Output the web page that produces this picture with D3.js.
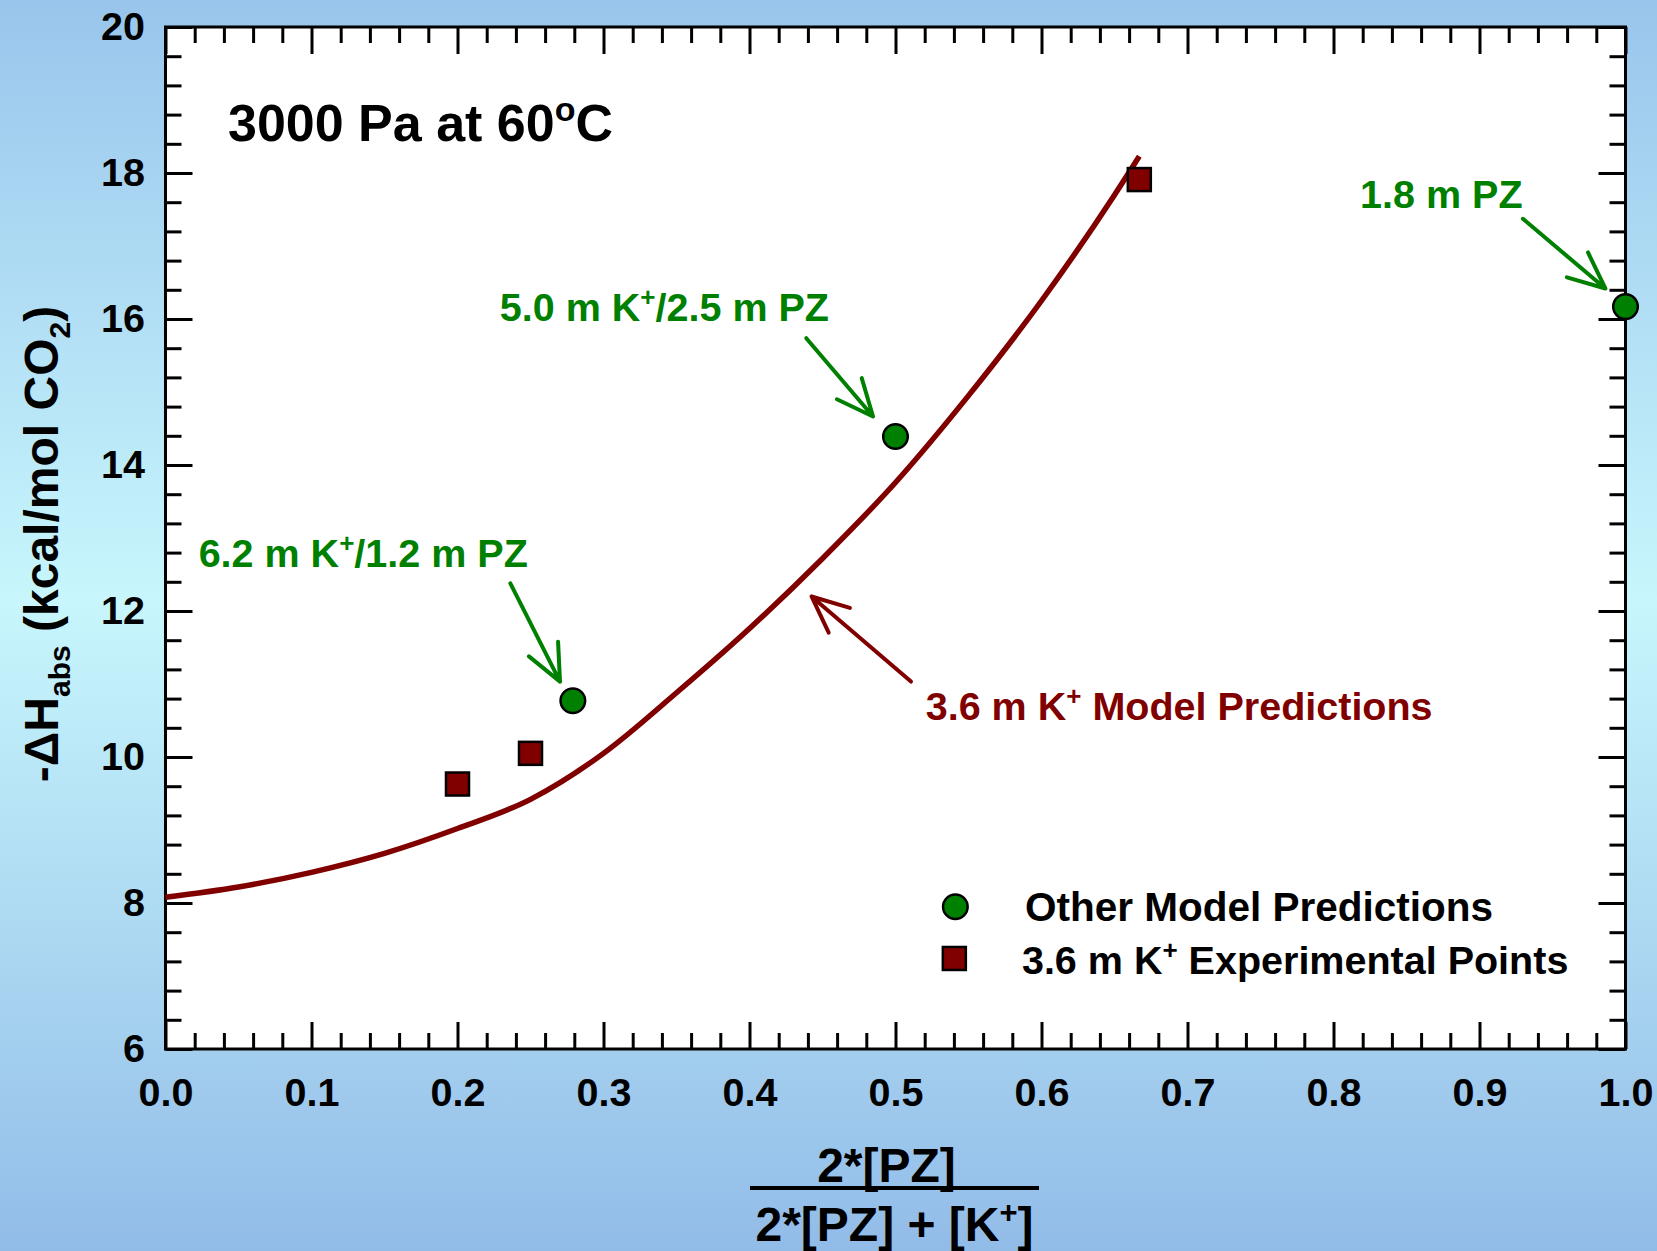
<!DOCTYPE html>
<html><head><meta charset="utf-8">
<script src="https://cdn.jsdelivr.net/npm/d3@7"></script>
<style>html,body{margin:0;padding:0;overflow:hidden;}svg{display:block;}text{font-family:"Liberation Sans",Arial,sans-serif;font-weight:bold;}</style>
</head><body>
<script>
// ---- data ----
const modelX = [0, 0.05, 0.1, 0.15, 0.2, 0.25, 0.3, 0.35, 0.4, 0.45, 0.5, 0.55, 0.6, 0.65, 0.667];
const modelY = [8.08, 8.22, 8.42, 8.68, 9.02, 9.42, 10.05, 10.88, 11.76, 12.72, 13.76, 14.95, 16.25, 17.7, 18.23];
const otherX = [0.279, 0.5, 1.0];
const otherY = [10.77, 14.39, 16.17];
const expX = [0.2, 0.25, 0.667];
const expY = [9.63, 10.05, 17.91];
const xTicks = [0, 0.1, 0.2, 0.3, 0.4, 0.5, 0.6, 0.7, 0.8, 0.9, 1.0];
const yTicks = [6, 8, 10, 12, 14, 16, 18, 20];
const xTickLabels = ["0.0","0.1","0.2","0.3","0.4","0.5","0.6","0.7","0.8","0.9","1.0"];
const yTickLabels = ["6","8","10","12","14","16","18","20"];
const legendLabels = ["Other Model Predictions", "3.6 m K", "Experimental Points"];

const W = 1657, H = 1251;
const L = 165.5, R = 1625.5, T = 27, B = 1049;
const GREEN = "#008000", RED = "#800000";

const svg = d3.select("body").append("svg").attr("width", W).attr("height", H);
const defs = svg.append("defs");
const grad = defs.append("linearGradient").attr("id","bg").attr("x1",0).attr("y1",0).attr("x2",0).attr("y2",1);
grad.append("stop").attr("offset","0%").attr("stop-color","#99c5ec");
grad.append("stop").attr("offset","48%").attr("stop-color","#c8f6fc");
grad.append("stop").attr("offset","100%").attr("stop-color","#92bce8");
svg.append("rect").attr("width",W).attr("height",H).attr("fill","url(#bg)");

const x = d3.scaleLinear().domain([0,1]).range([L,R]);
const y = d3.scaleLinear().domain([6,20]).range([B,T]);

svg.append("rect").attr("x",L).attr("y",T).attr("width",R-L).attr("height",B-T).attr("fill","#fff");

// minor ticks
const xMinor = d3.range(0, 1.0001, 0.02).filter(v => Math.abs(v*10 - Math.round(v*10)) > 1e-6);
const yMinor = d3.range(6, 20.0001, 0.4).filter(v => Math.abs(v/2 - Math.round(v/2)) > 1e-6);

function styleAxis(g){
  g.select(".domain").remove();
  g.selectAll(".tick line").attr("stroke","#000").attr("stroke-width",3);
  g.selectAll("text").attr("fill","#000").attr("font-size",39.5).attr("font-family","Liberation Sans, Arial, sans-serif").attr("font-weight","bold");
}
const MAJ = 27, MIN = 16;
svg.append("g").attr("transform",`translate(0,${B})`)
  .call(d3.axisBottom(x).tickValues(xTicks).tickSize(-MAJ).tickPadding(28.5).tickFormat((d,i)=>xTickLabels[i])).call(styleAxis);
svg.append("g").attr("transform",`translate(0,${B})`)
  .call(d3.axisBottom(x).tickValues(xMinor).tickSize(-MIN).tickFormat("")).call(styleAxis);
svg.append("g").attr("transform",`translate(0,${T})`)
  .call(d3.axisTop(x).tickValues(xTicks).tickSize(-MAJ).tickFormat("")).call(styleAxis);
svg.append("g").attr("transform",`translate(0,${T})`)
  .call(d3.axisTop(x).tickValues(xMinor).tickSize(-MIN).tickFormat("")).call(styleAxis);
svg.append("g").attr("transform",`translate(${L},0)`)
  .call(d3.axisLeft(y).tickValues(yTicks).tickSize(-MAJ).tickPadding(20.5).tickFormat((d,i)=>yTickLabels[i])).call(styleAxis);
svg.append("g").attr("transform",`translate(${L},0)`)
  .call(d3.axisLeft(y).tickValues(yMinor).tickSize(-MIN).tickFormat("")).call(styleAxis);
svg.append("g").attr("transform",`translate(${R},0)`)
  .call(d3.axisRight(y).tickValues(yTicks).tickSize(-MAJ).tickFormat("")).call(styleAxis);
svg.append("g").attr("transform",`translate(${R},0)`)
  .call(d3.axisRight(y).tickValues(yMinor).tickSize(-MIN).tickFormat("")).call(styleAxis);

svg.append("rect").attr("x",L).attr("y",T).attr("width",R-L).attr("height",B-T)
  .attr("fill","none").attr("stroke","#000").attr("stroke-width",3);

// model curve
const model = modelX.map((v,i)=>({x:v,y:modelY[i]}));
svg.append("path").datum(model)
  .attr("d", d3.line().x(d=>x(d.x)).y(d=>y(d.y)).curve(d3.curveMonotoneX))
  .attr("fill","none").attr("stroke",RED).attr("stroke-width",5.5);

// experimental squares
const SQ = 23;
svg.selectAll(".sq").data(expX.map((v,i)=>({x:v,y:expY[i]}))).enter().append("rect")
  .attr("x",d=>x(d.x)-SQ/2).attr("y",d=>y(d.y)-SQ/2).attr("width",SQ).attr("height",SQ)
  .attr("fill",RED).attr("stroke","#000").attr("stroke-width",2.5);

// other model circles
svg.selectAll(".ci").data(otherX.map((v,i)=>({x:v,y:otherY[i]}))).enter().append("circle")
  .attr("cx",d=>x(d.x)).attr("cy",d=>y(d.y)).attr("r",12.3)
  .attr("fill",GREEN).attr("stroke","#000").attr("stroke-width",2.5);

// title
const title = svg.append("text").attr("x",x(0.0428)).attr("y",y(18.438)).attr("font-size",52).attr("fill","#000");
title.append("tspan").text("3000 Pa at 60");
title.append("tspan").attr("font-size",34).attr("dy",-20).text("o");
title.append("tspan").attr("dy",20).text("C");

// annotations
function supLabel(px, py, parts, color){
  const t = svg.append("text").attr("x",x(px)).attr("y",y(py)).attr("font-size",39.5).attr("fill",color);
  parts.forEach(p=>{
    if(p.sup){ t.append("tspan").attr("font-size",26).attr("dy",-15).text(p.t); }
    else { const s = t.append("tspan").text(p.t); if(p.after) s.attr("dy",15); }
  });
  return t;
}
supLabel(0.0227, 12.596, [{t:"6.2 m K"},{t:"+",sup:true},{t:"/1.2 m PZ",after:true}], GREEN);
supLabel(0.229, 15.968, [{t:"5.0 m K"},{t:"+",sup:true},{t:"/2.5 m PZ",after:true}], GREEN);
supLabel(0.8182, 17.518, [{t:"1.8 m PZ"}], GREEN);
supLabel(0.5207, 10.511, [{t:"3.6 m K"},{t:"+",sup:true},{t:" Model Predictions",after:true}], RED);

const arrows = [
  {x1:0.2362,y1:12.378,x2:0.2702,y2:11.033,c:GREEN},
  {x1:0.4389,y1:15.737,x2:0.4846,y2:14.665,c:GREEN},
  {x1:0.9297,y1:17.373,x2:0.9862,y2:16.418,c:GREEN},
  {x1:0.5106,y1:11.033,x2:0.4425,y2:12.199,c:RED}
];
arrows.forEach(a=>{
  const X1=x(a.x1),Y1=y(a.y1),X2=x(a.x2),Y2=y(a.y2);
  const ang=Math.atan2(Y1-Y2,X1-X2), hl=40, ha=0.42;
  const p = d3.path();
  p.moveTo(X1,Y1); p.lineTo(X2,Y2);
  p.moveTo(X2+hl*Math.cos(ang+ha),Y2+hl*Math.sin(ang+ha)); p.lineTo(X2,Y2);
  p.lineTo(X2+hl*Math.cos(ang-ha),Y2+hl*Math.sin(ang-ha));
  svg.append("path").attr("d",p.toString()).attr("fill","none").attr("stroke",a.c)
    .attr("stroke-width",4).attr("stroke-linecap","round").attr("stroke-linejoin","round");
});

// legend
svg.append("circle").attr("cx",x(0.541)).attr("cy",y(7.949)).attr("r",12.3)
  .attr("fill",GREEN).attr("stroke","#000").attr("stroke-width",2.5);
svg.append("rect").attr("x",x(0.5403)-SQ/2).attr("y",y(7.24)-SQ/2).attr("width",SQ).attr("height",SQ)
  .attr("fill",RED).attr("stroke","#000").attr("stroke-width",2.5);
svg.append("text").attr("x",x(0.5887)).attr("y",y(7.747)).attr("font-size",40.5).attr("fill","#000").text(legendLabels[0]);
const lg2 = svg.append("text").attr("x",x(0.5866)).attr("y",y(7.022)).attr("font-size",39.5).attr("fill","#000");
lg2.append("tspan").text(legendLabels[1]);
lg2.append("tspan").attr("font-size",26).attr("dy",-15).text("+");
lg2.append("tspan").attr("dy",15).text(" " + legendLabels[2]);

// x axis title (fraction)
const cx = (750+1039)/2;
svg.append("text").attr("x",cx-8).attr("y",1181.5).attr("text-anchor","middle").attr("font-size",48).attr("fill","#000").text("2*[PZ]");
svg.append("line").attr("x1",750).attr("x2",1039).attr("y1",1188).attr("y2",1188).attr("stroke","#000").attr("stroke-width",4);
const den = svg.append("text").attr("x",cx).attr("y",1240.5).attr("text-anchor","middle").attr("font-size",48).attr("fill","#000");
den.append("tspan").text("2*[PZ] + [K");
den.append("tspan").attr("font-size",31).attr("dy",-18).text("+");
den.append("tspan").attr("dy",18).text("]");

// y axis title
const yt = svg.append("text").attr("transform","translate(58,544) rotate(-90)").attr("text-anchor","middle").attr("font-size",48).attr("fill","#000");
yt.append("tspan").text("-\u0394H");
yt.append("tspan").attr("font-size",30).attr("dy",12).text("abs");
yt.append("tspan").attr("dy",-12).text(" (kcal/mol CO");
yt.append("tspan").attr("font-size",30).attr("dy",12).text("2");
yt.append("tspan").attr("dy",-12).text(")");
</script>
</body></html>
